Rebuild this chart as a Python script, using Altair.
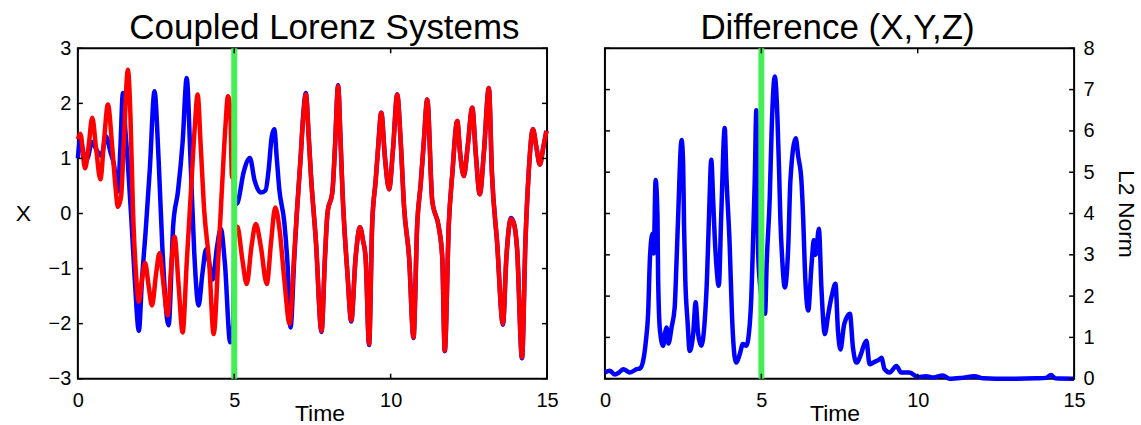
import altair as alt
import pandas as pd

# ---------------- data ----------------
t_blue = [0.0, 0.08, 0.18, 0.3, 0.45, 0.6, 0.75, 0.9, 1.05, 1.15, 1.28, 1.36, 1.44, 1.52, 1.6, 1.7,
          1.82, 1.95, 2.05, 2.17, 2.3, 2.45, 2.58, 2.7, 2.9, 3.05, 3.2, 3.35, 3.48, 3.6, 3.72, 3.86,
          3.98, 4.1, 4.2, 4.31, 4.45, 4.57, 4.7, 4.87, 4.97,
          5.02, 5.11, 5.3, 5.5, 5.65, 5.85, 6.0, 6.1, 6.2, 6.28, 6.36, 6.44, 6.6, 6.7, 6.8, 6.92,
          7.0, 7.12, 7.2, 7.29, 7.38, 7.45, 7.61, 7.79, 7.9, 7.98, 8.14, 8.22, 8.32, 8.4, 8.46,
          8.62, 8.74, 8.88, 9.02, 9.12, 9.2, 9.31, 9.41, 9.52, 9.6, 9.7, 9.82, 9.95, 10.08, 10.21,
          10.32, 10.43, 10.59, 10.73, 10.85, 10.96, 11.06, 11.17, 11.33, 11.54, 11.65, 11.73,
          11.86, 11.97, 12.13, 12.22, 12.34, 12.46, 12.61, 12.72, 12.85, 12.98, 13.14, 13.24,
          13.4, 13.59, 13.7, 13.85, 13.95, 14.04, 14.2, 14.31, 14.41, 14.55, 14.66, 14.77, 14.88, 14.98]
x_blue = [1.0, 1.35, 1.1, 1.0, 1.3, 1.15, 1.05, 1.4, 1.1, 0.9, 0.4, 1.2, 2.19, 1.5, 0.9, 0.0,
          -1.2, -2.13, -1.2, -0.3, 0.8, 2.22, 1.0, -0.6, -2.03, -0.2, 0.4, 1.3, 2.46, 1.0, -0.7, -1.67,
          -1.1, -0.65, -0.9, -1.2, -0.6, -0.28, -0.9, -2.34, -2.0,
          0.15, 0.2, 0.75, 1.01, 0.6, 0.38, 0.42, 0.8, 1.4, 1.53, 1.0, 0.44, -0.16, -0.89, -2.07, -0.8,
          0.0, 1.0, 1.75, 2.19, 1.4, 0.71, -0.5, -2.15, -0.8, 0.0, 0.41, 1.2, 2.33, 1.3, 0.41,
          -1.1, -1.96, -0.8, -0.25, -0.5, -0.8, -2.39, -0.19, 0.59, 1.2, 1.83, 1.0, 0.44, 1.2, 2.16,
          1.32, 0.11, -0.8, -2.26, -0.19, 0.53, 1.3, 2.07, 0.23, -0.25, -0.8, -2.5,
          -0.19, 0.71, 1.68, 1.1, 0.68, 1.2, 1.92, 1.1, 0.35, 1.1, 2.28, 0.71,
          -0.5, -2.02, -0.8, -0.08, -0.2, -0.62, -2.63, -0.5, 0.71, 1.53, 1.2, 0.89, 1.2, 1.5]

t_red = [0.0, 0.08, 0.23, 0.34, 0.46, 0.58, 0.72, 0.84, 0.96, 1.1, 1.2, 1.28, 1.38, 1.47, 1.6, 1.68,
         1.76, 1.86, 1.95, 2.05, 2.15, 2.26, 2.37, 2.5, 2.61, 2.74, 2.87, 2.98, 3.09, 3.22, 3.35,
         3.48, 3.62, 3.73, 3.83, 3.93, 4.04, 4.2, 4.34, 4.5, 4.62, 4.72, 4.8, 4.87, 4.93, 4.98,
         5.02, 5.11, 5.25, 5.4, 5.55, 5.69, 5.85, 6.04, 6.18, 6.31, 6.45, 6.6, 6.77, 6.9,
         7.0, 7.12, 7.2, 7.29, 7.38, 7.45, 7.61, 7.79, 7.9, 7.98, 8.14, 8.22, 8.32, 8.4, 8.46,
         8.62, 8.74, 8.88, 9.02, 9.12, 9.2, 9.31, 9.41, 9.52, 9.6, 9.7, 9.82, 9.95, 10.08, 10.21,
         10.32, 10.43, 10.59, 10.73, 10.85, 10.96, 11.06, 11.17, 11.33, 11.54, 11.65, 11.73,
         11.86, 11.97, 12.13, 12.22, 12.34, 12.46, 12.61, 12.72, 12.85, 12.98, 13.14, 13.24,
         13.4, 13.59, 13.7, 13.85, 13.95, 14.04, 14.2, 14.31, 14.41, 14.55, 14.66, 14.77, 14.88, 14.98]
x_red = [1.35, 1.45, 0.82, 1.2, 1.74, 1.2, 0.62, 1.35, 1.98, 1.2, 0.5, 0.12, 0.3, 1.3, 2.61, 1.8,
         0.1, -1.1, -1.6, -1.2, -0.9, -1.3, -1.67, -1.1, -0.72, -1.3, -1.85, -1.0, -0.42, -1.3, -2.16,
         -0.9, 0.45, 1.5, 2.16, 1.2, 0.05, -0.9, -2.19, -0.7, 0.6, 1.6, 2.13, 1.9, 0.65, 0.65,
         -0.22, -0.25, -0.8, -1.28, -0.6, -0.19, -0.6, -1.28, -0.5, 0.11, -0.3, -1.2, -2.0, -0.9,
         0.0, 1.0, 1.7, 2.16, 1.4, 0.71, -0.5, -2.13, -0.8, 0.0, 0.41, 1.2, 2.31, 1.3, 0.41,
         -1.1, -1.94, -0.8, -0.25, -0.5, -0.8, -2.37, -0.19, 0.59, 1.2, 1.83, 1.0, 0.44, 1.2, 2.16,
         1.32, 0.11, -0.8, -2.25, -0.19, 0.53, 1.3, 2.07, 0.23, -0.25, -0.8, -2.49,
         -0.19, 0.71, 1.68, 1.1, 0.68, 1.2, 1.92, 1.1, 0.35, 1.1, 2.28, 0.71,
         -0.5, -2.0, -0.8, -0.1, -0.2, -0.62, -2.61, -0.5, 0.71, 1.53, 1.2, 0.89, 1.2, 1.5]

t_diff = [0.0, 0.16, 0.32, 0.45, 0.59, 0.8, 1.01, 1.12, 1.22, 1.31, 1.38, 1.44, 1.52, 1.56, 1.62,
          1.68, 1.7, 1.76, 1.86, 1.92, 1.97, 2.03, 2.13, 2.23, 2.29, 2.34, 2.45, 2.5, 2.53, 2.57,
          2.64, 2.71, 2.82, 2.9, 2.98, 3.08, 3.19, 3.26, 3.33, 3.4, 3.46, 3.51, 3.56, 3.64, 3.72,
          3.83, 3.88, 3.99, 4.06, 4.15, 4.2, 4.31, 4.41, 4.52, 4.63, 4.68, 4.73, 4.79, 4.84, 4.9,
          5.0, 5.12, 5.17, 5.27, 5.33, 5.43, 5.51, 5.57, 5.61, 5.67, 5.75, 5.86, 5.93, 6.1, 6.18,
          6.28, 6.34, 6.39, 6.5, 6.6, 6.68, 6.74, 6.84, 6.92, 7.03, 7.14, 7.25, 7.37, 7.45, 7.53,
          7.65, 7.83, 7.93, 8.04, 8.2, 8.25, 8.36, 8.46, 8.6, 8.78, 8.84, 8.94, 9.1, 9.32, 9.47,
          9.74, 10.0, 10.27, 10.5, 10.8, 11.02, 11.4, 11.81, 12.1, 12.5, 13.14, 13.8, 14.1, 14.26,
          14.4, 15.0]
l2_diff = [0.15, 0.19, 0.1, 0.15, 0.23, 0.15, 0.23, 0.25, 0.43, 0.92, 1.57, 2.94, 3.51, 3.03, 4.81,
           3.92, 2.46, 1.16, 0.8, 1.1, 1.24, 0.85, 1.24, 1.73, 2.86, 3.92, 5.78, 5.2, 3.67, 2.38,
           1.4, 0.67, 1.08, 1.85, 1.08, 0.8, 1.4, 2.38, 4.0, 5.3, 4.32, 3.43, 2.78, 2.25, 4.0,
           6.07, 4.97, 3.19, 1.57, 0.51, 0.39, 0.59, 0.84, 0.8, 1.32, 1.97, 3.19, 4.81, 6.5, 3.0,
           2.0, 1.57, 2.78, 4.4, 6.03, 7.32, 6.43, 4.97, 3.84, 2.86, 2.21, 3.19, 4.81, 5.82, 5.38,
           4.81, 3.84, 2.7, 1.65, 2.7, 3.35, 3.0, 3.63, 2.21, 1.08, 1.57, 2.0, 2.3, 1.16, 0.71,
           1.32, 1.57, 0.75, 0.39, 0.63, 0.75, 0.92, 0.35, 0.4, 0.47, 0.51, 0.23, 0.15, 0.31, 0.15,
           0.15, 0.04, 0.06, 0.03, 0.08, 0.0, 0.02, 0.06, 0.01, 0.0, 0.0, 0.01, 0.02, 0.09,
           0.01, 0.0]

switch_time = [5]
x_ticks = [0, 5, 10, 15]
y_ticks_left = [-3, -2, -1, 0, 1, 2, 3]
y_ticks_right = [0, 1, 2, 3, 4, 5, 6, 7, 8]

# ---------------- styling ----------------
W, H = 470, 331
FONT = "Liberation Sans"
BLUE, RED, GREEN = "#0000FF", "#FF0000", "#44EE55"
LW = 4.5

blue_df = pd.DataFrame({"t": t_blue, "v": x_blue})
red_df = pd.DataFrame({"t": t_red, "v": x_red})
diff_df = pd.DataFrame({"t": t_diff, "v": l2_diff})
switch_df = pd.DataFrame({"t": switch_time})
xt_df = pd.DataFrame({"t": x_ticks})
ytl_df = pd.DataFrame({"v": y_ticks_left})
ytr_df = pd.DataFrame({"v": y_ticks_right})

xs = alt.Scale(domain=[0, 15], nice=False, zero=False)
ysl = alt.Scale(domain=[-3, 3], nice=False, zero=False)
ysr = alt.Scale(domain=[0, 8], nice=False, zero=False)


def make_x_axis(title_shift):
    return alt.Axis(values=x_ticks, format="d", title="Time", titleY=42, titleX=W / 2 + title_shift,
                    titleAlign="center", titleBaseline="alphabetic", labelPadding=12,
                    labelFlush=False)


xl_axis = make_x_axis(7)
xr_axis = make_x_axis(-5)
yl_axis = alt.Axis(values=y_ticks_left, format="d", title="X", titleAngle=0, titleX=-55,
                   titleY=H / 2, titleAlign="center", titleBaseline="middle", labelPadding=7)
yr_axis = alt.Axis(values=y_ticks_right, format="d", title="L2 Norm", orient="right",
                   titleAngle=90, titleX=51, titleY=H / 2, titleAlign="center",
                   titleBaseline="middle", labelPadding=9)


def tick_layers(xaxis, yscale, yaxis, ydf):
    style = dict(color="black", strokeWidth=1.5)
    xenc = alt.X("t:Q", scale=xs, axis=xaxis)
    tb = alt.Chart(xt_df).mark_rule(**style).encode(x=xenc, y=alt.value(H), y2=alt.value(H - 5))
    tt = alt.Chart(xt_df).mark_rule(**style).encode(x=xenc, y=alt.value(0), y2=alt.value(5))
    tl = alt.Chart(ydf).mark_rule(**style).encode(
        y=alt.Y("v:Q", scale=yscale, axis=yaxis), x=alt.value(0), x2=alt.value(5))
    tr = alt.Chart(ydf).mark_rule(**style).encode(
        y=alt.Y("v:Q", scale=yscale, axis=yaxis), x=alt.value(W - 5), x2=alt.value(W))
    return [tb, tt, tl, tr]


line_style = dict(strokeWidth=LW, strokeJoin="round", interpolate="monotone")

# ---------------- left panel ----------------
XL = alt.X("t:Q", scale=xs, axis=xl_axis)
blue_line = alt.Chart(blue_df).mark_line(color=BLUE, **line_style).encode(
    x=XL, y=alt.Y("v:Q", scale=ysl, axis=yl_axis), order="t:Q")
red_line = alt.Chart(red_df).mark_line(color=RED, **line_style).encode(
    x=XL, y=alt.Y("v:Q", scale=ysl, axis=yl_axis), order="t:Q")
green_left = alt.Chart(switch_df).mark_rule(color=GREEN, strokeWidth=6).encode(x=XL)

left = alt.layer(blue_line, red_line, green_left,
                 *tick_layers(xl_axis, ysl, yl_axis, ytl_df)).properties(
    width=W, height=H, title=alt.TitleParams("Coupled Lorenz Systems", dx=12))

# ---------------- right panel ----------------
XR = alt.X("t:Q", scale=xs, axis=xr_axis)
diff_line = alt.Chart(diff_df).mark_line(color=BLUE, **line_style).encode(
    x=XR, y=alt.Y("v:Q", scale=ysr, axis=yr_axis), order="t:Q")
green_right = alt.Chart(switch_df).mark_rule(color=GREEN, strokeWidth=6).encode(x=XR)

right = alt.layer(diff_line, green_right,
                  *tick_layers(xr_axis, ysr, yr_axis, ytr_df)).properties(
    width=W, height=H, title=alt.TitleParams("Difference (X,Y,Z)", dx=-2))

chart = (
    alt.hconcat(left, right, spacing=58, bounds="flush")
    .properties(padding={"left": 14, "top": 10, "right": 4, "bottom": 0})
    .configure_view(stroke="black", strokeWidth=2)
    .configure_axis(labelFont=FONT, labelFontSize=20, labelColor="black", titleFont=FONT,
                    titleFontSize=23, titleFontWeight="normal", titleColor="black",
                    tickSize=0, domain=False, grid=False)
    .configure_title(font=FONT, fontSize=35, fontWeight="normal", color="black",
                     offset=-8, baseline="alphabetic")
)

chart.save("out.html", embed_options={"renderer": "svg", "actions": False})
